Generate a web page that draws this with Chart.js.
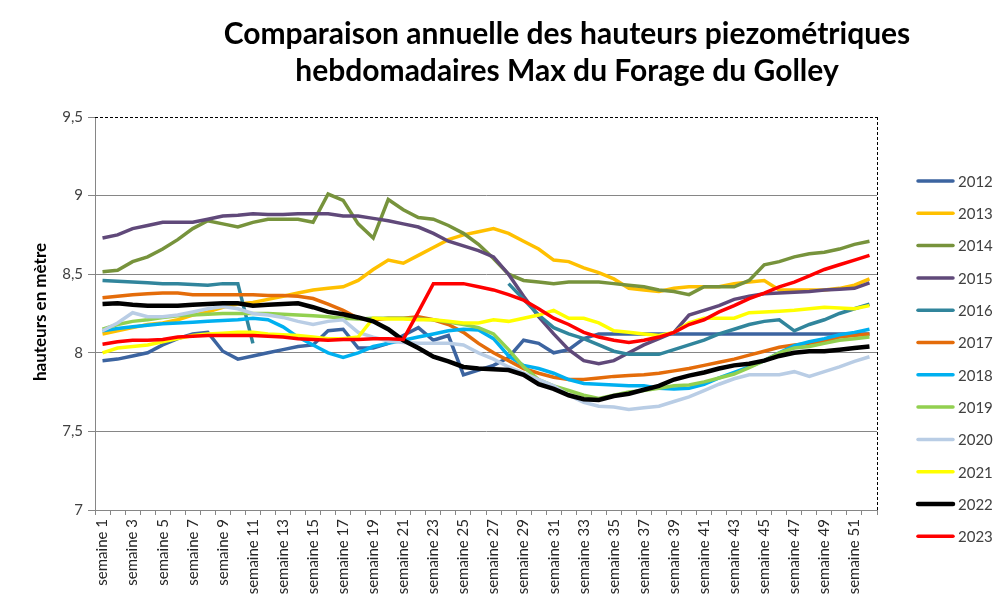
<!DOCTYPE html>
<html>
<head>
<meta charset="utf-8">
<script src="https://cdn.jsdelivr.net/npm/chart.js@4.4.1/dist/chart.umd.min.js"></script>
<style>
  html, body { margin: 0; padding: 0; background: #fff; }
  #chart { display: block; }
</style>
</head>
<body>
<canvas id="chart" width="998" height="613"></canvas>
<script>
// weekly max piezometric heights (m), one array per year
const weeks = ['semaine 1', 'semaine 2', 'semaine 3', 'semaine 4', 'semaine 5', 'semaine 6', 'semaine 7', 'semaine 8', 'semaine 9', 'semaine 10',
  'semaine 11', 'semaine 12', 'semaine 13', 'semaine 14', 'semaine 15', 'semaine 16', 'semaine 17', 'semaine 18', 'semaine 19', 'semaine 20',
  'semaine 21', 'semaine 22', 'semaine 23', 'semaine 24', 'semaine 25', 'semaine 26', 'semaine 27', 'semaine 28', 'semaine 29', 'semaine 30',
  'semaine 31', 'semaine 32', 'semaine 33', 'semaine 34', 'semaine 35', 'semaine 36', 'semaine 37', 'semaine 38', 'semaine 39', 'semaine 40',
  'semaine 41', 'semaine 42', 'semaine 43', 'semaine 44', 'semaine 45', 'semaine 46', 'semaine 47', 'semaine 48', 'semaine 49', 'semaine 50',
  'semaine 51', 'semaine 52'];

const years = ['2012', '2013', '2014', '2015', '2016', '2017', '2018', '2019', '2020', '2021', '2022', '2023'];
const colors = ['#3C64A0', '#FFC000', '#77933C', '#60497A', '#31859C', '#E46C0A', '#00B0F0', '#92D050', '#B9CDE5', '#FFFF00', '#000000', '#FF0000'];

const y2012 = [7.95, 7.96, 7.98, 8.0, 8.05, 8.09, 8.12, 8.13, 8.01, 7.96,
  7.98, 8.0, 8.02, 8.04, 8.05, 8.14, 8.15, 8.03, 8.03, 8.06,
  8.11, 8.16, 8.08, 8.11, 7.86, 7.89, 7.92, 7.97, 8.08, 8.06,
  8.0, 8.02, 8.09, 8.12, 8.12, 8.12, 8.12, 8.12, 8.12, 8.12,
  8.12, 8.12, 8.12, 8.12, 8.12, 8.12, 8.12, 8.12, 8.12, 8.12,
  8.12, 8.12];
const y2013 = [8.12, 8.14, 8.16, 8.18, 8.19, 8.21, 8.24, 8.26, 8.29, 8.31,
  8.32, 8.34, 8.36, 8.38, 8.40, 8.41, 8.42, 8.46, 8.53, 8.59,
  8.57, 8.62, 8.67, 8.72, 8.75, 8.77, 8.79, 8.76, 8.71, 8.66,
  8.59, 8.58, 8.54, 8.51, 8.47, 8.41, 8.40, 8.39, 8.41, 8.42,
  8.42, 8.42, 8.44, 8.45, 8.46, 8.40, 8.40, 8.40, 8.40, 8.41,
  8.43, 8.47];
const y2014 = [8.515, 8.525, 8.58, 8.61, 8.66, 8.72, 8.79, 8.84, 8.82, 8.80,
  8.83, 8.85, 8.85, 8.85, 8.83, 9.01, 8.97, 8.82, 8.73, 8.975,
  8.91, 8.86, 8.85, 8.81, 8.76, 8.69, 8.60, 8.50, 8.46, 8.45,
  8.44, 8.45, 8.45, 8.45, 8.44, 8.43, 8.42, 8.40, 8.39, 8.37,
  8.42, 8.42, 8.42, 8.46, 8.56, 8.58, 8.61, 8.63, 8.64, 8.66,
  8.69, 8.71];
const y2015 = [8.73, 8.75, 8.79, 8.81, 8.83, 8.83, 8.83, 8.85, 8.87, 8.875,
  8.885, 8.88, 8.88, 8.885, 8.885, 8.885, 8.87, 8.87, 8.855, 8.84,
  8.82, 8.80, 8.76, 8.71, 8.68, 8.65, 8.61, 8.50, 8.36, 8.23,
  8.12, 8.02, 7.95, 7.93, 7.95, 8.0, 8.05, 8.09, 8.13, 8.24,
  8.27, 8.30, 8.34, 8.36, 8.375, 8.38, 8.385, 8.39, 8.40, 8.405,
  8.41, 8.445];
const y2016 = [8.46, 8.455, 8.45, 8.445, 8.44, 8.44, 8.435, 8.43, 8.44, 8.44,
  8.06, null, null, null, null, null, null, null, null, null,
  null, null, null, null, null, null, null, 8.44, 8.34, 8.24,
  8.16, 8.12, 8.09, 8.05, 8.01, 7.99, 7.99, 7.99, 8.02, 8.05,
  8.08, 8.12, 8.15, 8.18, 8.20, 8.21, 8.14, 8.18, 8.21, 8.25,
  8.28, 8.31];
const y2017 = [8.35, 8.36, 8.37, 8.375, 8.38, 8.38, 8.37, 8.37, 8.37, 8.37,
  8.37, 8.365, 8.365, 8.36, 8.345, 8.31, 8.27, 8.22, 8.21, 8.22,
  8.22, 8.23, 8.21, 8.18, 8.13, 8.06, 8.0, 7.95, 7.90, 7.87,
  7.845, 7.83, 7.83, 7.84, 7.85, 7.855, 7.86, 7.87, 7.885, 7.90,
  7.92, 7.94, 7.96, 7.985, 8.01, 8.035, 8.05, 8.06, 8.075, 8.10,
  8.11, 8.12];
const y2018 = [8.14, 8.155, 8.165, 8.175, 8.185, 8.19, 8.195, 8.20, 8.205, 8.21,
  8.22, 8.21, 8.165, 8.10, 8.05, 8.0, 7.97, 8.0, 8.04, 8.06,
  8.08, 8.10, 8.12, 8.14, 8.15, 8.145, 8.09, 7.98, 7.92, 7.90,
  7.87, 7.83, 7.805, 7.80, 7.795, 7.79, 7.79, 7.775, 7.77, 7.775,
  7.80, 7.84, 7.875, 7.91, 7.95, 8.0, 8.045, 8.07, 8.09, 8.115,
  8.13, 8.15];
const y2019 = [8.15, 8.18, 8.2, 8.21, 8.225, 8.235, 8.24, 8.245, 8.25, 8.25,
  8.25, 8.25, 8.245, 8.24, 8.235, 8.23, 8.22, 8.215, 8.22, 8.22,
  8.22, 8.215, 8.21, 8.195, 8.18, 8.16, 8.12, 8.02, 7.91, 7.83,
  7.79, 7.76, 7.73, 7.71, 7.73, 7.75, 7.76, 7.775, 7.79, 7.795,
  7.815, 7.84, 7.865, 7.905, 7.95, 8.0, 8.03, 8.04, 8.06, 8.08,
  8.09, 8.10];
const y2020 = [8.14, 8.19, 8.255, 8.23, 8.23, 8.24, 8.26, 8.28, 8.295, 8.28,
  8.25, 8.24, 8.225, 8.20, 8.18, 8.20, 8.21, 8.13, 8.10, 8.075,
  8.065, 8.06, 8.06, 8.06, 8.05, 8.0, 7.96, 7.91, 7.87, 7.83,
  7.79, 7.73, 7.685, 7.66, 7.655, 7.64, 7.65, 7.66, 7.69, 7.72,
  7.76, 7.80, 7.835, 7.86, 7.86, 7.86, 7.88, 7.85, 7.88, 7.91,
  7.945, 7.975];
const y2021 = [8.0, 8.03, 8.04, 8.05, 8.07, 8.09, 8.11, 8.12, 8.125, 8.13,
  8.13, 8.12, 8.115, 8.11, 8.10, 8.09, 8.09, 8.10, 8.22, 8.215,
  8.215, 8.21, 8.21, 8.20, 8.19, 8.19, 8.21, 8.20, 8.22, 8.24,
  8.27, 8.22, 8.22, 8.19, 8.14, 8.13, 8.12, 8.11, 8.13, 8.19,
  8.22, 8.22, 8.22, 8.255, 8.26, 8.265, 8.27, 8.28, 8.29, 8.285,
  8.28, 8.30];
const y2022 = [8.31, 8.315, 8.305, 8.30, 8.30, 8.30, 8.305, 8.31, 8.315, 8.315,
  8.30, 8.305, 8.31, 8.315, 8.29, 8.26, 8.245, 8.225, 8.2, 8.15,
  8.08, 8.03, 7.975, 7.945, 7.91, 7.90, 7.895, 7.89, 7.86, 7.80,
  7.77, 7.73, 7.705, 7.70, 7.725, 7.74, 7.765, 7.79, 7.83, 7.855,
  7.875, 7.90, 7.92, 7.93, 7.95, 7.98, 8.0, 8.01, 8.01, 8.02,
  8.03, 8.04];
const y2023 = [8.055, 8.07, 8.08, 8.08, 8.085, 8.10, 8.105, 8.11, 8.11, 8.11,
  8.11, 8.105, 8.10, 8.09, 8.085, 8.08, 8.085, 8.085, 8.09, 8.09,
  8.085, 8.26, 8.44, 8.44, 8.44, 8.42, 8.40, 8.37, 8.335, 8.28,
  8.22, 8.18, 8.13, 8.10, 8.08, 8.065, 8.08, 8.10, 8.13, 8.18,
  8.21, 8.26, 8.30, 8.345, 8.38, 8.42, 8.45, 8.49, 8.53, 8.56,
  8.59, 8.62];

const yTicks = [7, 7.5, 8, 8.5, 9, 9.5];

const series = [y2012, y2013, y2014, y2015, y2016, y2017, y2018, y2019, y2020, y2021, y2022, y2023];

const FONT = 'Lato, "Open Sans", sans-serif';
const GRID = '#868686';

const datasets = series.map((data, i) => ({
  label: years[i],
  data: data,
  borderColor: colors[i],
  backgroundColor: colors[i],
  borderWidth: years[i] === '2022' ? 4.5 : 3.5,
  pointRadius: 0,
  pointHoverRadius: 0,
  tension: 0,
  spanGaps: false,
  order: series.length - i   // later years painted on top, like the original
}));

// title, axis title, legend and the dashed frame are drawn by hand
const decorations = {
  id: 'decorations',
  afterDraw(chart) {
    const ctx = chart.ctx;
    const area = chart.chartArea;
    ctx.save();

    // dashed top and right edge of the plot area
    ctx.strokeStyle = '#000';
    ctx.lineWidth = 1;
    ctx.setLineDash([3, 2]);
    ctx.beginPath();
    ctx.moveTo(area.left, Math.round(area.top) + 0.5);
    ctx.lineTo(area.right, Math.round(area.top) + 0.5);
    ctx.moveTo(Math.round(area.right) + 0.5, area.top);
    ctx.lineTo(Math.round(area.right) + 0.5, area.bottom);
    ctx.stroke();
    ctx.setLineDash([]);

    // title
    ctx.fillStyle = '#000';
    ctx.textAlign = 'center';
    ctx.textBaseline = 'middle';
    ctx.font = 'bold 30px ' + FONT;
    ctx.fillText('Comparaison annuelle des hauteurs piezométriques', 567, 34);
    ctx.fillText('hebdomadaires Max du Forage du Golley', 567, 71);

    // y axis title
    ctx.save();
    ctx.translate(41, 312);
    ctx.rotate(-Math.PI / 2);
    ctx.font = 'bold 17px ' + FONT;
    ctx.fillText('hauteurs en mètre', 0, 0);
    ctx.restore();

    // legend
    ctx.textAlign = 'left';
    ctx.font = '15px ' + FONT;
    years.forEach((year, i) => {
      const y = 181 + i * 32.3;
      ctx.strokeStyle = colors[i];
      ctx.lineWidth = year === '2022' ? 4.5 : 3.5;
      ctx.lineCap = 'round';
      ctx.beginPath();
      ctx.moveTo(918, y);
      ctx.lineTo(953, y);
      ctx.stroke();
      ctx.fillStyle = '#404040';
      ctx.fillText(year, 958, y + 1);
    });

    ctx.restore();
  }
};

new Chart(document.getElementById('chart'), {
  type: 'line',
  data: { labels: weeks, datasets: datasets },
  options: {
    responsive: false,
    animation: false,
    layout: { padding: { left: 30, right: 121, top: 117, bottom: 0 } },
    plugins: {
      legend: { display: false },
      title: { display: false },
      tooltip: { enabled: false }
    },
    scales: {
      x: {
        type: 'category',
        offset: true,
        grid: { offset: true, drawOnChartArea: false, drawTicks: true, tickLength: 5, color: GRID },
        border: { color: GRID },
        ticks: {
          autoSkip: false,
          minRotation: 90,
          maxRotation: 90,
          padding: 4,
          color: '#262626',
          font: { family: FONT, size: 15 },
          callback: (value, index) => (index % 2 === 0 ? weeks[index] : '')
        },
        afterFit: (scale) => { scale.height = 103; }
      },
      y: {
        min: 7,
        max: 9.5,
        afterBuildTicks: (scale) => { scale.ticks = yTicks.map(v => ({ value: v })); },
        grid: {
          color: (c) => (c.tick && c.tick.value === 9.5 ? 'rgba(0,0,0,0)' : GRID),
          tickColor: GRID,
          tickLength: 7
        },
        border: { color: GRID },
        ticks: {
          padding: 5,
          color: '#404040',
          font: { family: FONT, size: 15 },
          callback: (value) => String(value).replace('.', ',')
        },
        afterFit: (scale) => { scale.width = 65; }
      }
    }
  },
  plugins: [decorations]
});
</script>
</body>
</html>
